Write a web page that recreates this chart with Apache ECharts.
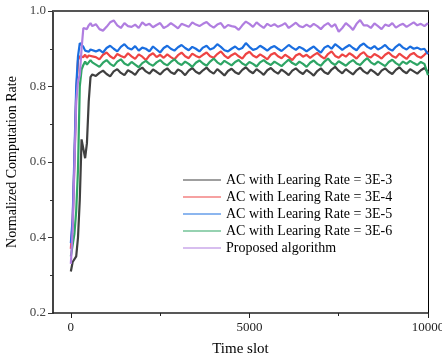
<!DOCTYPE html>
<html>
<head>
<meta charset="utf-8">
<script src="https://cdn.jsdelivr.net/npm/echarts@6/dist/echarts.min.js"></script>
<style>html,body{margin:0;padding:0;background:#fff}#c{width:442px;height:362px}</style>
</head>
<body>
<div id="c"></div>
<script>
var timeSlots = [0,50,100,150,200,250,300,350,400,450,500,550,600,
700,800,900,1000,1100,1200,1300,1400,1500,1600,
1700,1800,1900,2000,2100,2200,2300,2400,2500,2600,
2700,2800,2900,3000,3100,3200,3300,3400,3500,3600,
3700,3800,3900,4000,4100,4200,4300,4400,4500,4600,
4700,4800,4900,5000,5100,5200,5300,5400,5500,5600,
5700,5800,5900,6000,6100,6200,6300,6400,6500,6600,
6700,6800,6900,7000,7100,7200,7300,7400,7500,7600,
7700,7800,7900,8000,8100,8200,8300,8400,8500,8600,
8700,8800,8900,9000,9100,9200,9300,9400,9500,9600,
9700,9800,9900,10000];

var lr3e3 = [0.31,0.335,0.34,0.35,0.40,0.50,0.66,0.66,0.61,0.65,0.76,0.825,0.832,
0.828,0.836,0.842,0.833,0.827,0.840,0.846,0.836,0.830,0.843,
0.838,0.831,0.844,0.850,0.840,0.834,0.845,0.839,0.832,0.842,
0.848,0.838,0.833,0.845,0.840,0.830,0.842,0.849,0.839,0.834,
0.843,0.850,0.840,0.834,0.846,0.838,0.829,0.841,0.847,0.838,
0.833,0.844,0.851,0.841,0.835,0.846,0.839,0.831,0.843,0.849,
0.840,0.834,0.845,0.838,0.830,0.842,0.848,0.839,0.833,0.844,
0.837,0.829,0.841,0.848,0.838,0.833,0.845,0.852,0.842,0.835,
0.846,0.839,0.832,0.843,0.850,0.840,0.834,0.845,0.838,0.830,
0.842,0.848,0.839,0.833,0.844,0.851,0.841,0.835,0.846,0.840,
0.834,0.843,0.849,0.838];

var lr3e4 = [0.37,0.44,0.60,0.78,0.870,0.880,0.885,0.878,0.884,0.876,0.882,0.887,0.880,
0.878,0.872,0.884,0.890,0.880,0.874,0.886,0.881,0.877,0.888,
0.880,0.873,0.885,0.879,0.870,0.882,0.888,0.878,0.884,0.876,
0.885,0.878,0.872,0.883,0.890,0.880,0.875,0.887,0.881,0.877,
0.884,0.890,0.880,0.876,0.886,0.893,0.882,0.875,0.883,0.888,
0.880,0.874,0.886,0.892,0.882,0.877,0.885,0.879,0.872,0.884,
0.889,0.880,0.875,0.884,0.878,0.870,0.882,0.887,0.879,0.884,
0.876,0.883,0.889,0.880,0.874,0.886,0.893,0.881,0.876,0.885,
0.879,0.888,0.882,0.874,0.885,0.891,0.880,0.877,0.886,0.881,
0.874,0.884,0.890,0.881,0.876,0.887,0.880,0.873,0.884,0.889,
0.880,0.876,0.884,0.893];

var lr3e5 = [0.385,0.45,0.62,0.80,0.88,0.915,0.918,0.905,0.895,0.900,0.892,0.898,0.895,
0.893,0.897,0.890,0.902,0.908,0.900,0.893,0.905,0.912,0.902,
0.898,0.907,0.895,0.903,0.900,0.893,0.906,0.898,0.890,0.902,
0.908,0.900,0.895,0.904,0.910,0.902,0.896,0.905,0.900,0.893,
0.903,0.908,0.898,0.902,0.912,0.905,0.896,0.893,0.900,0.906,
0.898,0.902,0.915,0.905,0.897,0.900,0.908,0.902,0.895,0.903,
0.907,0.900,0.894,0.902,0.910,0.903,0.897,0.905,0.900,0.893,
0.900,0.906,0.897,0.890,0.903,0.908,0.900,0.912,0.905,0.897,
0.904,0.910,0.902,0.896,0.908,0.914,0.905,0.900,0.907,0.898,
0.903,0.910,0.900,0.895,0.905,0.912,0.903,0.898,0.906,0.900,
0.903,0.898,0.900,0.886];

var lr3e6 = [0.35,0.38,0.41,0.47,0.58,0.80,0.845,0.857,0.866,0.858,0.862,0.870,0.864,
0.858,0.852,0.863,0.870,0.860,0.854,0.866,0.872,0.861,0.856,
0.865,0.858,0.851,0.862,0.868,0.860,0.855,0.864,0.870,0.861,
0.856,0.865,0.872,0.862,0.857,0.866,0.860,0.852,0.863,0.869,
0.861,0.855,0.866,0.874,0.864,0.858,0.868,0.862,0.856,0.865,
0.870,0.861,0.856,0.865,0.860,0.853,0.864,0.870,0.862,0.857,
0.866,0.860,0.854,0.863,0.871,0.862,0.857,0.866,0.860,0.852,
0.863,0.869,0.860,0.855,0.866,0.874,0.863,0.857,0.867,0.861,
0.855,0.864,0.870,0.861,0.857,0.867,0.875,0.864,0.858,0.866,
0.860,0.854,0.865,0.871,0.862,0.856,0.866,0.860,0.868,0.862,
0.857,0.865,0.860,0.830];

var proposed = [0.33,0.42,0.59,0.76,0.815,0.83,0.90,0.955,0.958,0.952,0.962,0.968,0.960,
0.965,0.952,0.948,0.958,0.970,0.975,0.962,0.955,0.968,0.960,
0.958,0.964,0.955,0.970,0.962,0.966,0.957,0.963,0.968,0.955,
0.960,0.968,0.961,0.954,0.966,0.962,0.958,0.970,0.964,0.960,
0.966,0.971,0.962,0.956,0.964,0.968,0.955,0.963,0.960,0.958,
0.950,0.962,0.972,0.966,0.958,0.970,0.962,0.955,0.966,0.960,
0.965,0.958,0.962,0.968,0.955,0.962,0.969,0.960,0.957,0.964,
0.958,0.966,0.960,0.952,0.962,0.968,0.958,0.965,0.945,0.955,
0.968,0.960,0.950,0.966,0.976,0.962,0.962,0.955,0.967,0.960,
0.952,0.964,0.960,0.968,0.956,0.962,0.966,0.958,0.964,0.970,
0.962,0.966,0.960,0.968];

var seriesNames = ['AC with Learing Rate = 3E-3','AC with Learing Rate = 3E-4','AC with Learing Rate = 3E-5','AC with Learing Rate = 3E-6','Proposed algorithm'];
var seriesValues = [lr3e3, lr3e4, lr3e5, lr3e6, proposed];
var seriesColors = ['#404040','#ee4444','#1a6ee0','#2ea565','#b07ee0'];
var xMajorTicks = [0,5000,10000];
var xMinorTicks = [2500,7500];

var FONT = '"Liberation Serif", "Times New Roman", serif';
var chart = echarts.init(document.getElementById('c'), null, {renderer:'canvas'});
var series = seriesNames.map(function(n,i){
  return {
    name:n, type:'line', xAxisIndex:0, yAxisIndex:0, symbol:'none', showSymbol:false,
    data: timeSlots.map(function(t,j){return [t, seriesValues[i][j]];}),
    lineStyle:{color:seriesColors[i], width:2.2},
    itemStyle:{color:seriesColors[i]},
    animation:false
  };
});
chart.setOption({
  backgroundColor:'#fff',
  animation:false,
  textStyle:{fontFamily:FONT},
  grid:{left:53, right:14, top:11, bottom:49, containLabel:false, outerBoundsMode:'none'},
  legend:{
    data:seriesNames, orient:'vertical', left:178, top:168,
    itemWidth:38, itemHeight:10, itemGap:3,
    icon:'path://M0,5 L38,5 L38,6 L0,6 Z',
    textStyle:{fontFamily:FONT, fontSize:14, color:'#000'}
  },
  xAxis:[{
    type:'value', min:-500, max:10000, position:'bottom',
    name:'Time slot', nameLocation:'middle', nameGap:29,
    nameTextStyle:{fontFamily:FONT, fontSize:15, color:'#000'},
    axisLine:{show:true, onZero:false, lineStyle:{color:'#222', width:1.5}},
    axisTick:{show:true, length:5, customValues:xMajorTicks, lineStyle:{color:'#222'}},
    axisLabel:{show:true, customValues:xMajorTicks, fontFamily:FONT, fontSize:13, color:'#222', margin:8, formatter:function(v){return String(v);}},
    splitLine:{show:false}
  },{
    type:'value', min:-500, max:10000, position:'bottom', gridIndex:0,
    axisLine:{show:false},
    axisTick:{show:true, length:3, customValues:xMinorTicks, lineStyle:{color:'#222'}},
    axisLabel:{show:false}, splitLine:{show:false}
  },{
    type:'value', min:-500, max:10000, position:'top', gridIndex:0,
    axisLine:{show:true, onZero:false, lineStyle:{color:'#555', width:2}},
    axisTick:{show:false}, axisLabel:{show:false}, splitLine:{show:false}
  }],
  yAxis:[{
    type:'value', min:0.2, max:1.0, interval:0.2, position:'left',
    name:'Normalized Computation Rate', nameLocation:'middle', nameGap:31,
    nameTextStyle:{fontFamily:FONT, fontSize:14, color:'#000'},
    axisLine:{show:true, onZero:false, lineStyle:{color:'#444', width:2}},
    axisTick:{show:true, length:5, lineStyle:{color:'#333'}},
    minorTick:{show:true, splitNumber:2, length:3, lineStyle:{color:'#333'}},
    axisLabel:{fontFamily:FONT, fontSize:13, color:'#444', margin:7, formatter:function(v){return v.toFixed(1);}},
    splitLine:{show:false}
  },{
    type:'value', min:0.2, max:1.0, position:'right',
    axisLine:{show:true, onZero:false, lineStyle:{color:'#000', width:1}},
    axisTick:{show:false}, axisLabel:{show:false}, splitLine:{show:false}
  }],
  series: series
});
</script>
</body>
</html>
